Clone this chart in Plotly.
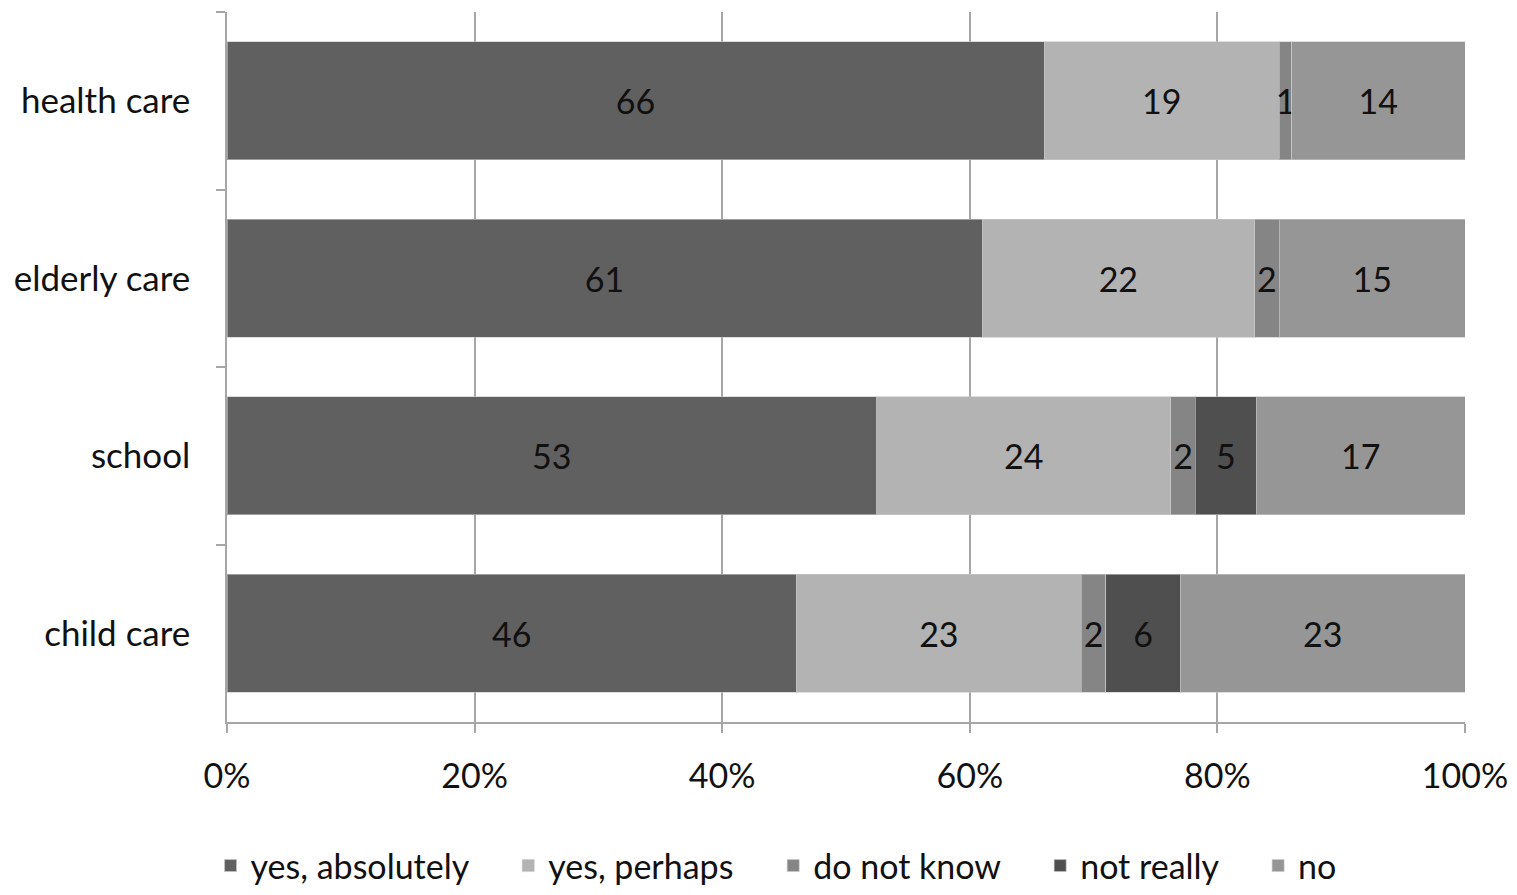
import plotly.graph_objects as go

# Survey responses per sector (counts as percentages, each row normalised to 100%)
categories = ["health care", "elderly care", "school", "child care"]
yes_absolutely = [66, 61, 53, 46]
yes_perhaps = [19, 22, 24, 23]
do_not_know = [1, 2, 2, 2]
not_really = [0, 0, 5, 6]
no = [14, 15, 17, 23]

x_ticks = [0, 20, 40, 60, 80, 100]
x_tick_labels = [f"{t}%" for t in x_ticks]

series = [
    ("yes, absolutely", yes_absolutely, "#606060"),
    ("yes, perhaps", yes_perhaps, "#b3b3b3"),
    ("do not know", do_not_know, "#858585"),
    ("not really", not_really, "#4f4f4f"),
    ("no", no, "#969696"),
]

FONT = "Lato, 'Open Sans', sans-serif"
NBSP = "\u00a0"

fig = go.Figure()
for i, (name, vals, color) in enumerate(series):
    label = name if i == len(series) - 1 else name + NBSP * 4
    fig.add_trace(go.Bar(
        name=label,
        y=categories,
        x=vals,
        orientation="h",
        marker=dict(color=color, line=dict(color="rgba(200,200,200,0.6)", width=1)),
        text=[str(v) if v else "" for v in vals],
        textposition="inside",
        insidetextanchor="middle",
        textangle=0,
        textfont=dict(family=FONT, size=34, color="#111111"),
        hoverinfo="skip",
    ))

fig.update_layout(
    barmode="stack",
    barnorm="percent",
    bargap=0.335,
    width=1517,
    height=895,
    margin=dict(l=227, r=52, t=12, b=173, autoexpand=False),
    plot_bgcolor="white",
    paper_bgcolor="white",
    font=dict(family=FONT, size=34, color="#111111"),
    uniformtext=dict(mode="show", minsize=34),
    showlegend=True,
    legend=dict(
        orientation="h",
        xref="paper", x=0.4435, xanchor="center",
        yref="container", y=-0.022, yanchor="bottom",
        font=dict(family=FONT, size=34, color="#111111"),
        itemwidth=30,
        traceorder="normal",
    ),
    xaxis=dict(
        range=[0, 100],
        tickvals=x_ticks,
        ticktext=x_tick_labels,
        showgrid=True,
        gridcolor="#a6a6a6",
        gridwidth=1.5,
        zeroline=False,
        showline=True,
        linecolor="#a6a6a6",
        linewidth=1.5,
        ticks="outside",
        ticklen=9,
        tickcolor="#a6a6a6",
        tickwidth=1.5,
        ticklabelstandoff=14,
        tickfont=dict(family=FONT, size=34, color="#111111"),
        fixedrange=True,
    ),
    yaxis=dict(
        categoryorder="array",
        categoryarray=categories,
        autorange="reversed",
        showline=True,
        linecolor="#a6a6a6",
        linewidth=1.5,
        ticks="outside",
        tickson="boundaries",
        ticklen=9,
        tickcolor="#a6a6a6",
        tickwidth=1.5,
        ticklabelstandoff=28,
        tickfont=dict(family=FONT, size=35, color="#111111"),
        showgrid=False,
    ),
)

fig.write_html("out.html")
